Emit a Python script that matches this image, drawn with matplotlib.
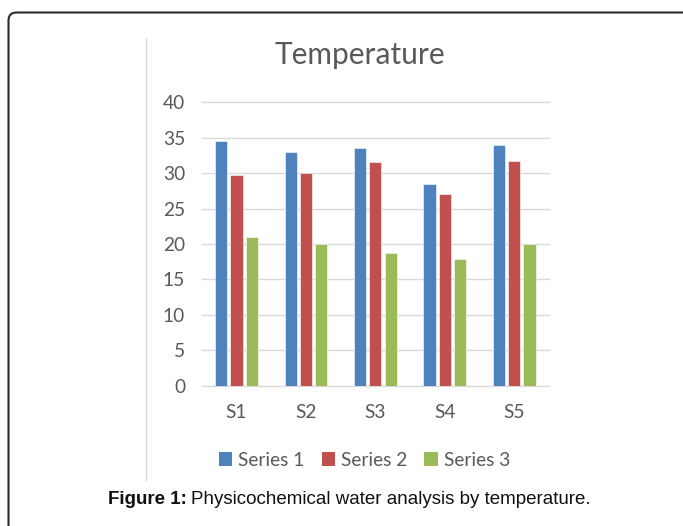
import matplotlib
matplotlib.use("Agg")
import matplotlib.pyplot as plt
import numpy as np
from matplotlib.patches import FancyBboxPatch, Patch
from matplotlib.lines import Line2D
from matplotlib.transforms import IdentityTransform

# Data
categories = ["S1", "S2", "S3", "S4", "S5"]
series_names = ["Series 1", "Series 2", "Series 3"]
series_1 = [34.5, 33.0, 33.5, 28.4, 34.0]
series_2 = [29.7, 30.0, 31.6, 27.1, 31.7]
series_3 = [21.0, 20.0, 18.7, 17.9, 20.0]
y_ticks = [0, 5, 10, 15, 20, 25, 30, 35, 40]

colors = ["#4F81BD", "#C0504D", "#9BBB59"]
text_gray = "#595959"
font = ["Lato", "DejaVu Sans"]

W, H = 683, 526
fig = plt.figure(figsize=(W / 100, H / 100), dpi=100)
fig.patch.set_facecolor("white")

# Plot area
ax = fig.add_axes([201.7 / W, 1 - 385.7 / H, (549 - 201.7) / W, (385.7 - 102.3) / H])
x = np.arange(len(categories))
bar_w = 0.175
step = 0.22
for i, (vals, c) in enumerate(zip([series_1, series_2, series_3], colors)):
    ax.bar(x + (i - 1) * step, vals, width=bar_w, color=c, edgecolor="white",
           linewidth=0.4, zorder=3)

ax.set_xlim(-0.5, len(categories) - 0.5)
ax.set_ylim(0, 40)
ax.set_yticks(y_ticks)
ax.set_xticks(x)
ax.set_xticklabels(categories)
ax.yaxis.grid(True, color="#D9D9D9", linewidth=1.0, zorder=0)
ax.set_axisbelow(True)
for s in ax.spines.values():
    s.set_visible(False)
ax.tick_params(axis="both", length=0, colors=text_gray, labelsize=13.8)
ax.tick_params(axis="y", pad=12)
ax.tick_params(axis="x", pad=13)
for lab in ax.get_xticklabels() + ax.get_yticklabels():
    lab.set_fontfamily(font)
for gl in ax.get_ygridlines():
    gl.set_clip_on(False)

# Chart title
fig.text(360 / W, 1 - 55 / H, "Temperature", ha="center", va="center",
         fontsize=21.5, color=text_gray, family=font)

# Legend
handles = [Patch(facecolor=c, edgecolor="none") for c in colors]
fig.legend(handles, series_names, loc="center", bbox_to_anchor=(364.5 / W, 1 - 460 / H),
           ncol=3, frameon=False, prop={"family": font, "size": 13.8},
           labelcolor=text_gray, handlelength=0.7, handleheight=0.7,
           handletextpad=0.3, columnspacing=0.9)

# Chart-area left edge line
fig.add_artist(Line2D([146 / W, 146 / W], [1 - 38 / H, 1 - 480 / H],
                      transform=fig.transFigure, color="#D9D9D9", linewidth=1.0))

# Rounded outer frame (in pixel coordinates)
frame = FancyBboxPatch((8.5, -30), 720, H - 12 - (-30) - 0.5,
                       boxstyle="round,pad=0,rounding_size=8",
                       transform=IdentityTransform(), facecolor="none",
                       edgecolor="#2b2b2b", linewidth=1.5)
fig.add_artist(frame)

# Caption
cap_y = 1 - 500 / H
t1 = fig.text(108 / W, cap_y, "Figure 1:", ha="left", va="center",
              fontsize=13.5, fontweight="bold", color="#111111", family="Liberation Sans")
fig.canvas.draw()
bb = t1.get_window_extent()
fig.text((bb.x1 + 4) / W, cap_y, "Physicochemical water analysis by temperature.",
         ha="left", va="center", fontsize=13.5, color="#111111", family="Liberation Sans")

fig.savefig("out.png", dpi=100)
